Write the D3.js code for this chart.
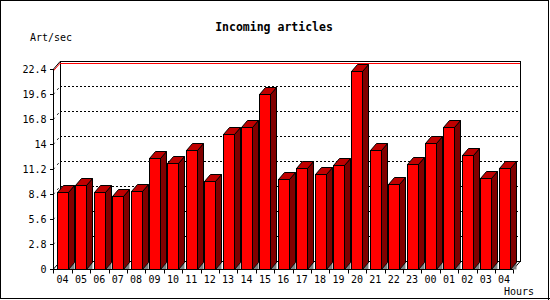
<!DOCTYPE html>
<html><head><meta charset="utf-8">
<script src="https://cdn.jsdelivr.net/npm/d3@7"></script>
<style>body{margin:0;background:#fff}svg{display:block}text{font-family:"DejaVu Sans Mono",monospace}</style>
</head><body><svg id="c" width="550" height="300"></svg>
<script>
const hours = ["04","05","06","07","08","09","10","11","12","13","14","15","16","17","18","19","20","21","22","23","00","01","02","03","04"];
const artPerSec = [8.62, 9.41, 8.62, 8.18, 8.73, 12.43, 11.87, 13.33, 9.86, 15.12, 15.90, 19.63, 10.08, 11.34, 10.64, 11.65, 22.21, 13.36, 9.52, 11.76, 14.11, 15.90, 12.77, 10.19, 11.34];
const yTickValues = [0, 2.8, 5.6, 8.4, 11.2, 14, 16.8, 19.6, 22.4];
const yTickLabels = ["0", "2.8", "5.6", "8.4", "11.2", "14", "16.8", "19.6", "22.4"];
const title = "Incoming articles";
const yTitle = "Art/sec";
const xTitle = "Hours";

const svg = d3.select("#c");
const L = 53.3, R = 513.3, B = 269.3, T = 69.3;
const DX = 7, DY = 8;       // plot depth
const bdx = 6, bdy = 7;     // bar depth

const x = d3.scaleBand().domain(d3.range(hours.length)).range([L, R]).paddingInner(0.4).paddingOuter(0.2);
const y = d3.scaleLinear().domain([0, 22.4]).range([B, T]);
const step = x.step();
const bound = i => L + i * step;

// frame
svg.append("rect").attr("x", 0.5).attr("y", 0.5).attr("width", 548).attr("height", 298).attr("fill", "#fff").attr("stroke", "#000");
svg.append("line").attr("x1", 548.5).attr("x2", 548.5).attr("y1", 0).attr("y2", 300).attr("stroke", "#000");
svg.append("line").attr("x1", 0).attr("x2", 550).attr("y1", 298.5).attr("y2", 298.5).attr("stroke", "#000");

// back plane
const g = svg.append("g");
g.append("rect").attr("x", L + DX).attr("y", T - DY).attr("width", R - L).attr("height", B - T)
  .attr("fill", "#fff").attr("stroke", "#000").attr("shape-rendering", "crispEdges");

// grid lines (dotted) on back plane + diagonals on left wall
yTickValues.slice(1, -1).forEach(v => {
  g.append("line").attr("x1", L + DX).attr("x2", R + DX).attr("y1", Math.round(y(v) - DY) + 0.5).attr("y2", Math.round(y(v) - DY) + 0.5)
    .attr("stroke", "#000").attr("stroke-dasharray", "2,2").attr("shape-rendering", "crispEdges");
  g.append("line").attr("x1", L).attr("x2", L + DX).attr("y1", y(v)).attr("y2", y(v) - DY)
    .attr("stroke", "#000").attr("stroke-dasharray", "2,4");
});

// red max line
const maxV = d3.max(artPerSec);
g.append("line").attr("x1", L + DX).attr("x2", R + DX).attr("y1", Math.round(y(maxV) - DY) + 0.5).attr("y2", Math.round(y(maxV) - DY) + 0.5)
  .attr("stroke", "#f00").attr("shape-rendering", "crispEdges");
g.append("line").attr("x1", L).attr("x2", L + DX).attr("y1", y(maxV)).attr("y2", y(maxV) - DY).attr("stroke", "#f00");

// floor edges
g.append("line").attr("x1", L).attr("y1", B).attr("x2", L + DX).attr("y2", B - DY).attr("stroke", "#000");
g.append("line").attr("x1", R).attr("y1", B).attr("x2", R + DX).attr("y2", B - DY).attr("stroke", "#000");

// bars
const bars = g.selectAll("g.bar").data(artPerSec).join("g").attr("class", "bar");
bars.each(function(v, i) {
  const s = d3.select(this);
  const x0 = Math.round(x(i)) + 0.5, w = Math.round(x.bandwidth());
  const yt = Math.round(y(v)) + 0.5, yb = Math.round(y(0)) + 0.5;
  // gray floor triangle
  s.append("path").attr("d", `M${x0 + w},${yb}L${x0 + w + bdx},${yb}L${x0 + w + bdx},${yb - bdy}Z`)
    .attr("fill", "#808080").attr("stroke", "none");
  // side
  s.append("path").attr("d", `M${x0 + w},${yb}L${x0 + w + bdx},${yb - bdy}L${x0 + w + bdx},${yt - bdy}L${x0 + w},${yt}Z`)
    .attr("fill", "#800000").attr("stroke", "#000");
  // top
  s.append("path").attr("d", `M${x0},${yt}L${x0 + bdx},${yt - bdy}L${x0 + w + bdx},${yt - bdy}L${x0 + w},${yt}Z`)
    .attr("fill", "#c00000").attr("stroke", "#000");
  // front
  s.append("rect").attr("x", x0).attr("y", yt).attr("width", w).attr("height", yb - yt)
    .attr("fill", "#ff0000").attr("stroke", "#000");
});

// y axis
const ya = svg.append("g").attr("transform", `translate(${Math.round(L) + 0.5},0)`)
  .call(d3.axisLeft(y).tickValues(yTickValues).tickFormat((d, i) => yTickLabels[i]).tickSize(4).tickPadding(3));
ya.select(".domain").attr("d", `M0,${y(22.4)}V${B}`).attr("stroke", "#000").attr("shape-rendering", "crispEdges");
ya.selectAll(".tick line").attr("shape-rendering", "crispEdges");
ya.selectAll("text").attr("font-size", 10).attr("font-family", "DejaVu Sans Mono").attr("fill", "#000");
svg.append("line").attr("x1", L).attr("y1", T).attr("x2", L + DX).attr("y2", T - DY).attr("stroke", "#000");

// x axis
const xa = svg.append("g").attr("transform", `translate(0,${Math.round(B) + 0.5})`)
  .call(d3.axisBottom(x).tickFormat(i => hours[i]).tickSize(0).tickPadding(6));
xa.select(".domain").attr("d", `M${L},0H${R}`).attr("stroke", "#000").attr("shape-rendering", "crispEdges");
xa.selectAll("text").attr("font-size", 10).attr("font-family", "DejaVu Sans Mono").attr("fill", "#000");
xa.selectAll(".bt").data(d3.range(hours.length + 1)).join("line").attr("class", "bt")
  .attr("x1", i => Math.round(bound(i)) + 0.5).attr("x2", i => Math.round(bound(i)) + 0.5)
  .attr("y1", 0).attr("y2", 4).attr("stroke", "#000");

// titles
svg.append("text").attr("x", 274).attr("y", 31).attr("text-anchor", "middle")
  .attr("font-size", 11.5).attr("font-weight", "bold").text(title);
svg.append("text").attr("x", 30).attr("y", 41).attr("font-size", 10).text(yTitle);
svg.append("text").attr("x", 504).attr("y", 295).attr("font-size", 10).text(xTitle);
</script></body></html>
